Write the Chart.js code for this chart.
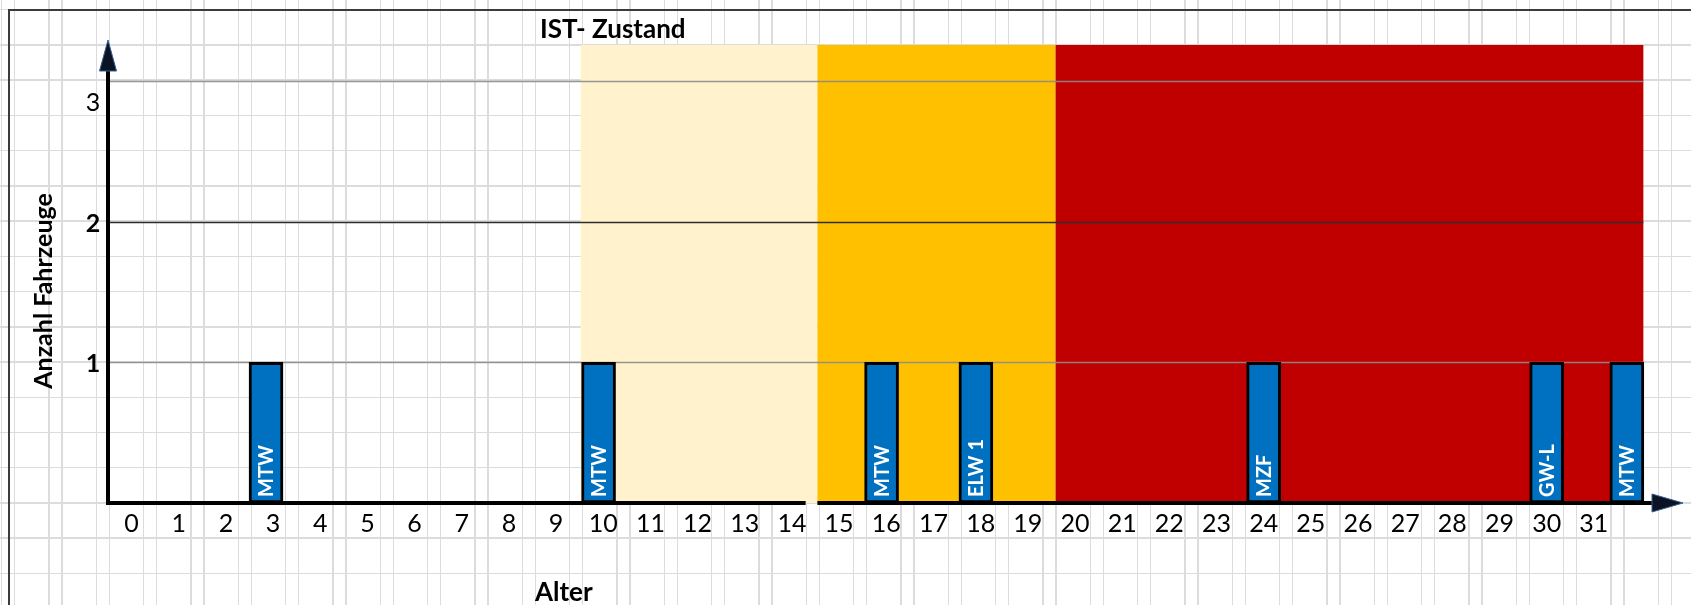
<!DOCTYPE html>
<html>
<head>
<meta charset="utf-8">
<script src="https://cdn.jsdelivr.net/npm/chart.js@4.4.1/dist/chart.umd.min.js"></script>
<style>
  html, body { margin: 0; padding: 0; }
  body {
    width: 1691px; height: 605px; overflow: hidden;
    background-color: #fff;
    background-image:
      repeating-linear-gradient(to right, transparent 0 1px, #dcdcdc 1px 2.5px, transparent 2.5px 14px, #dcdcdc 14px 15.5px, transparent 15.5px 47.33px),
      repeating-linear-gradient(to bottom, transparent 0 9px, #dcdcdc 9px 10.5px, transparent 10.5px 35.23px);
  }
  #wrap { position: relative; width: 1691px; height: 605px; }
</style>
</head>
<body>
<div id="wrap"><canvas id="istChart" width="1691" height="605"></canvas></div>
<script>
// Fahrzeuge nach Alter (Position der Säule auf der Altersachse, so wie gezeichnet)
const alter = [2.85, 9.9, 15.9, 17.9, 24, 30, 31.7];
const anzahl = [1, 1, 1, 1, 1, 1, 1];
const fahrzeuge = ["MTW", "MTW", "MTW", "ELW 1", "MZF", "GW-L", "MTW"];

const alterTicks = ["0", "1", "2", "3", "4", "5", "6", "7", "8", "9", "10", "11", "12", "13", "14", "15",
                    "16", "17", "18", "19", "20", "21", "22", "23", "24", "25", "26", "27", "28", "29", "30", "31"];
const anzahlTicks = [1, 2, 3];

// farbige Bereiche (Alter von/bis)
const bereichVon = [9.52, 14.54, 19.59];
const bereichBis = [14.54, 19.59, 32.05];
const bereichFarben = ["#fff2cc", "#ffc000", "#c00000"];
const bereichOben = 3.255;

const FONT = "Lato, 'Open Sans', sans-serif";

const zeichnen = {
    id: "zeichnen",
    beforeDatasetsDraw(chart) {
        const { ctx, scales: { x, y } } = chart;
        ctx.save();
        bereichVon.forEach((von, i) => {
            const l = x.getPixelForValue(von);
            const r = x.getPixelForValue(bereichBis[i]);
            const t = y.getPixelForValue(bereichOben);
            const b = y.getPixelForValue(0);
            ctx.fillStyle = bereichFarben[i];
            ctx.fillRect(l, t, r - l, b - t);
        });
        // Hilfslinien
        anzahlTicks.forEach(v => {
            const py = Math.round(y.getPixelForValue(v)) + 0.5;
            ctx.strokeStyle = v === 2 ? "#2e2e2e" : "rgba(140,140,140,0.9)";
            ctx.lineWidth = 1.5;
            ctx.beginPath();
            ctx.moveTo(x.getPixelForValue(-0.5), py);
            ctx.lineTo(x.getPixelForValue(bereichBis[2]), py);
            ctx.stroke();
        });
        ctx.restore();
    },
    afterDatasetsDraw(chart) {
        const { ctx, scales: { x, y } } = chart;
        const meta = chart.getDatasetMeta(0);
        const y0 = y.getPixelForValue(0);
        const x0 = x.getPixelForValue(-0.5);
        ctx.save();

        // Beschriftung in den Säulen
        ctx.fillStyle = "#ffffff";
        ctx.font = "bold 20px " + FONT;
        ctx.textAlign = "left";
        ctx.textBaseline = "middle";
        meta.data.forEach((bar, i) => {
            ctx.save();
            ctx.translate(bar.x + 1, y0 - 6);
            ctx.rotate(-Math.PI / 2);
            ctx.fillText(fahrzeuge[i], 0, 0);
            ctx.restore();
        });

        // Achsen
        ctx.strokeStyle = "#000";
        ctx.lineWidth = 4;
        ctx.beginPath();
        ctx.moveTo(x0, y0 + 2);
        ctx.lineTo(x0, 70);
        ctx.stroke();
        ctx.beginPath();
        ctx.moveTo(x0 - 2, y0);
        ctx.lineTo(x.getPixelForValue(14.29), y0);
        ctx.moveTo(x.getPixelForValue(14.54), y0);
        ctx.lineTo(1654, y0);
        ctx.stroke();

        // Pfeile
        ctx.fillStyle = "#0b1424";
        ctx.strokeStyle = "#3a5f8f";
        ctx.lineWidth = 1;
        ctx.beginPath();
        ctx.moveTo(x0, 40);
        ctx.lineTo(x0 + 8.5, 71);
        ctx.lineTo(x0 - 8.5, 71);
        ctx.closePath();
        ctx.fill();
        ctx.stroke();
        ctx.beginPath();
        ctx.moveTo(1683, y0);
        ctx.lineTo(1652, y0 - 9);
        ctx.lineTo(1652, y0 + 9);
        ctx.closePath();
        ctx.fill();
        ctx.stroke();

        // Achsenbeschriftung X
        ctx.fillStyle = "#000";
        ctx.font = "25px " + FONT;
        ctx.textAlign = "center";
        ctx.textBaseline = "middle";
        alterTicks.forEach((t, i) => {
            ctx.fillText(t, x.getPixelForValue(i), y0 + 21);
        });

        // Achsenbeschriftung Y
        anzahlTicks.forEach(v => {
            ctx.font = (v === 3 ? "" : "bold ") + "25px " + FONT;
            const py = y.getPixelForValue(v === 3 ? v - 0.146 : v) + 2;
            ctx.fillText(String(v), 93, py);
        });

        // Titel
        ctx.font = "bold 26px " + FONT;
        ctx.textAlign = "left";
        ctx.fillText("IST- Zustand", 540, 30);
        ctx.fillText("Alter", 535, 593);

        ctx.save();
        ctx.translate(44, 291);
        ctx.rotate(-Math.PI / 2);
        ctx.textAlign = "center";
        ctx.font = "bold 25px " + FONT;
        ctx.fillText("Anzahl Fahrzeuge", 0, 0);
        ctx.restore();

        // Rahmen
        ctx.strokeStyle = "#3c3c3c";
        ctx.lineWidth = 2;
        ctx.beginPath();
        ctx.moveTo(9, 605);
        ctx.lineTo(9, 10);
        ctx.lineTo(1691, 10);
        ctx.stroke();

        ctx.restore();
    }
};

const chart = new Chart(document.getElementById("istChart").getContext("2d"), {
    type: "bar",
    data: {
        datasets: [{
            label: "Anzahl Fahrzeuge",
            data: alter.map((a, i) => ({ x: a, y: anzahl[i] })),
            backgroundColor: "#0070c0",
            borderColor: "#000000",
            borderWidth: 3,
            borderSkipped: false,
            barThickness: 34
        }]
    },
    options: {
        responsive: false,
        maintainAspectRatio: false,
        animation: false,
        layout: { padding: { left: 108, right: 0, top: 10.5, bottom: 102 } },
        scales: {
            x: { type: "linear", min: -0.5, max: 33.06, offset: false, display: false },
            y: { min: 0, max: 3.5, display: false }
        },
        plugins: {
            legend: { display: false },
            tooltip: { enabled: false }
        }
    },
    plugins: [zeichnen]
});
</script>
</body>
</html>
